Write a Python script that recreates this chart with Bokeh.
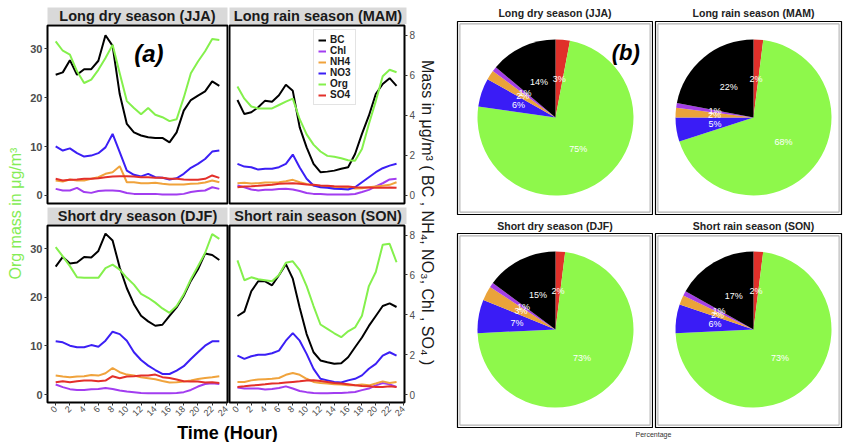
import math

from bokeh.core.properties import value
from bokeh.embed import file_html
from bokeh.layouts import column, row
from bokeh.models import (BoxAnnotation, ColumnDataSource, FixedTicker, Label,
                          LinearAxis, Range1d)
from bokeh.plotting import figure
from bokeh.resources import INLINE

FONT = "Liberation Sans"

# ---------------------------------------------------------------- data
hours = list(range(24))
seasons = ["JJA", "MAM", "DJF", "SON"]
season_titles = {
    "JJA": "Long dry season (JJA)",
    "MAM": "Long rain season (MAM)",
    "DJF": "Short dry season (DJF)",
    "SON": "Short rain season (SON)",
}
species = ["BC", "Chl", "NH4", "NO3", "Org", "SO4"]

# Organics, ug/m3 (left axis)
org_jja = [31.5, 29.6, 28.8, 25.4, 23.0, 23.7, 25.7, 28.1, 30.8, 25.0, 19.3, 17.9,
           16.6, 17.9, 16.5, 16.0, 15.2, 15.6, 20.0, 25.0, 27.4, 29.5, 32.0, 31.8]
org_mam = [22.3, 19.8, 18.2, 17.8, 17.8, 17.8, 18.5, 19.2, 19.8, 15.6, 12.5, 10.4,
           9.0, 8.1, 7.9, 7.6, 7.2, 7.1, 9.5, 14.6, 19.3, 24.4, 25.7, 25.2]
org_djf = [30.3, 28.4, 26.4, 24.1, 24.0, 24.0, 24.0, 26.0, 26.7, 25.7, 24.0, 22.6,
           20.7, 19.9, 18.9, 17.7, 16.8, 18.2, 20.6, 23.7, 26.4, 29.1, 33.0, 32.0]
org_son = [27.6, 23.5, 24.1, 23.7, 23.5, 23.3, 24.6, 27.1, 27.4, 25.6, 22.3, 18.2,
           14.4, 13.5, 12.6, 11.8, 13.0, 13.8, 16.2, 22.3, 25.2, 30.8, 31.0, 27.2]

# Black carbon and inorganics, ug/m3 (right axis)
bc_jja = [6.02, 6.14, 6.75, 6.02, 6.30, 6.30, 6.72, 7.99, 7.46, 5.06, 3.57, 3.15,
          2.99, 2.90, 2.87, 2.87, 2.65, 3.15, 4.23, 4.76, 4.98, 5.19, 5.69, 5.47]
bc_mam = [4.76, 4.06, 4.15, 4.40, 4.73, 4.68, 5.00, 5.52, 5.22, 3.40, 2.40, 1.58,
          1.16, 1.19, 1.24, 1.33, 1.41, 2.07, 3.07, 3.98, 5.06, 5.56, 5.85, 5.47]
bc_djf = [6.42, 6.90, 6.57, 6.62, 6.90, 6.87, 7.20, 8.07, 7.73, 6.37, 5.33, 4.53,
          3.95, 3.67, 3.45, 3.50, 3.95, 4.37, 4.95, 5.70, 6.28, 7.07, 7.00, 6.75]
bc_son = [3.94, 4.16, 5.18, 5.68, 5.68, 5.48, 5.98, 6.54, 5.81, 4.35, 3.03, 2.12,
          1.71, 1.62, 1.54, 1.57, 1.87, 2.37, 2.86, 3.44, 3.94, 4.44, 4.57, 4.39]

no3_jja = [2.45, 2.24, 2.35, 2.11, 1.94, 1.99, 2.11, 2.40, 3.07, 2.16, 1.24, 1.03,
           0.95, 1.08, 0.91, 0.88, 0.80, 0.86, 1.08, 1.38, 1.58, 1.82, 2.19, 2.24]
no3_mam = [1.58, 1.44, 1.41, 1.29, 1.33, 1.33, 1.41, 1.58, 2.04, 1.40, 0.83, 0.50,
           0.41, 0.38, 0.33, 0.32, 0.30, 0.41, 0.66, 0.91, 1.16, 1.36, 1.49, 1.58]
no3_djf = [2.67, 2.62, 2.45, 2.37, 2.37, 2.48, 2.40, 2.70, 3.15, 3.03, 2.70, 2.12,
           1.73, 1.45, 1.23, 1.03, 1.03, 1.20, 1.42, 1.78, 2.12, 2.45, 2.67, 2.67]
no3_son = [1.95, 1.79, 1.92, 2.00, 2.00, 2.07, 2.20, 2.70, 3.08, 2.70, 2.04, 1.29,
           0.79, 0.71, 0.63, 0.60, 0.71, 0.79, 0.96, 1.29, 1.54, 1.95, 2.12, 1.95]

nh4_jja = [0.75, 0.70, 0.80, 0.75, 0.75, 0.83, 0.91, 1.08, 1.16, 1.46, 0.66, 0.66,
           0.61, 0.61, 0.63, 0.58, 0.55, 0.55, 0.55, 0.58, 0.60, 0.65, 0.75, 0.66]
nh4_mam = [0.61, 0.63, 0.60, 0.61, 0.65, 0.65, 0.66, 0.71, 0.78, 0.66, 0.58, 0.50,
           0.46, 0.45, 0.41, 0.38, 0.38, 0.35, 0.36, 0.41, 0.45, 0.48, 0.53, 0.66]
nh4_djf = [0.95, 0.90, 0.87, 0.90, 0.92, 0.98, 0.95, 1.07, 1.33, 1.12, 1.00, 0.95,
           0.87, 0.82, 0.77, 0.68, 0.60, 0.62, 0.65, 0.70, 0.78, 0.83, 0.87, 0.92]
nh4_son = [0.63, 0.63, 0.71, 0.75, 0.77, 0.79, 0.83, 0.99, 1.08, 0.99, 0.79, 0.63,
           0.58, 0.55, 0.51, 0.50, 0.46, 0.46, 0.50, 0.46, 0.55, 0.66, 0.58, 0.63]

so4_jja = [0.83, 0.75, 0.78, 0.80, 0.83, 0.83, 0.86, 0.91, 0.95, 0.96, 0.96, 0.95,
           0.91, 0.91, 0.88, 0.88, 0.83, 0.83, 0.80, 0.78, 0.78, 0.83, 1.00, 0.88]
so4_mam = [0.41, 0.45, 0.46, 0.48, 0.51, 0.53, 0.58, 0.60, 0.61, 0.58, 0.55, 0.53,
           0.50, 0.48, 0.46, 0.45, 0.45, 0.41, 0.40, 0.40, 0.38, 0.38, 0.40, 0.38]
so4_djf = [0.62, 0.67, 0.62, 0.67, 0.70, 0.70, 0.67, 0.70, 0.92, 0.82, 0.90, 0.92,
           0.95, 0.95, 1.00, 0.87, 0.83, 0.75, 0.67, 0.65, 0.65, 0.60, 0.62, 0.58]
so4_son = [0.38, 0.41, 0.45, 0.48, 0.51, 0.55, 0.56, 0.60, 0.63, 0.66, 0.70, 0.71,
           0.68, 0.63, 0.58, 0.55, 0.51, 0.46, 0.43, 0.41, 0.38, 0.38, 0.41, 0.38]

chl_jja = [0.33, 0.25, 0.25, 0.38, 0.17, 0.13, 0.22, 0.25, 0.25, 0.22, 0.12, 0.08,
           0.08, 0.08, 0.08, 0.05, 0.05, 0.05, 0.08, 0.17, 0.22, 0.25, 0.41, 0.33]
chl_mam = [0.50, 0.41, 0.30, 0.25, 0.28, 0.28, 0.32, 0.33, 0.30, 0.22, 0.12, 0.08,
           0.07, 0.05, 0.05, 0.05, 0.05, 0.07, 0.17, 0.28, 0.45, 0.61, 0.80, 0.83]
chl_djf = [0.50, 0.37, 0.27, 0.23, 0.23, 0.27, 0.28, 0.33, 0.28, 0.20, 0.15, 0.12,
           0.08, 0.07, 0.07, 0.07, 0.07, 0.08, 0.12, 0.23, 0.40, 0.53, 0.57, 0.53]
chl_son = [0.35, 0.30, 0.30, 0.30, 0.25, 0.28, 0.33, 0.41, 0.30, 0.18, 0.12, 0.08,
           0.07, 0.07, 0.08, 0.08, 0.10, 0.13, 0.22, 0.30, 0.46, 0.58, 0.51, 0.38]

diurnal = {
    "JJA": {"BC": bc_jja, "Chl": chl_jja, "NH4": nh4_jja, "NO3": no3_jja, "Org": org_jja, "SO4": so4_jja},
    "MAM": {"BC": bc_mam, "Chl": chl_mam, "NH4": nh4_mam, "NO3": no3_mam, "Org": org_mam, "SO4": so4_mam},
    "DJF": {"BC": bc_djf, "Chl": chl_djf, "NH4": nh4_djf, "NO3": no3_djf, "Org": org_djf, "SO4": so4_djf},
    "SON": {"BC": bc_son, "Chl": chl_son, "NH4": nh4_son, "NO3": no3_son, "Org": org_son, "SO4": so4_son},
}

# Seasonal mass fractions (%)
pie_order = ["SO4", "Org", "NO3", "NH4", "Chl", "BC"]   # clockwise from 12 o'clock
pct_jja = {"BC": 14, "Chl": 1, "NH4": 2, "NO3": 6, "Org": 75, "SO4": 3}
pct_mam = {"BC": 22, "Chl": 1, "NH4": 2, "NO3": 5, "Org": 68, "SO4": 2}
pct_djf = {"BC": 15, "Chl": 1, "NH4": 3, "NO3": 7, "Org": 73, "SO4": 2}
pct_son = {"BC": 17, "Chl": 1, "NH4": 2, "NO3": 6, "Org": 73, "SO4": 2}
fractions = {"JJA": pct_jja, "MAM": pct_mam, "DJF": pct_djf, "SON": pct_son}

line_colors = {"BC": "#000000", "Chl": "#a23df0", "NH4": "#f0a33c", "NO3": "#3b1ff5",
               "Org": "#84f04c", "SO4": "#e3302a"}
pie_colors = {"BC": "#000000", "Chl": "#a33ee6", "NH4": "#eaa33a", "NO3": "#3a1cf6",
              "Org": "#8ef84b", "SO4": "#e0302a"}

SEC = 4.1                    # Org units per secondary-axis unit
Y0, Y1 = -1.64, 34.76
X0, X1 = -1.15, 24.15


def bare(width, height, mb, fill="white"):
    f = figure(width=width, height=height, x_range=Range1d(0, 1), y_range=Range1d(0, 1),
               x_axis_type=None, y_axis_type=None, toolbar_location=None,
               output_backend="svg", min_border_left=mb[0], min_border_right=mb[1],
               min_border_top=mb[2], min_border_bottom=mb[3])
    f.outline_line_color = None
    f.background_fill_color = fill
    f.border_fill_color = "white"
    return f


def text_fig(width, height, mb, text, x, y, size, style="normal", color="#1a1a1a",
             fill="white", angle=0.0):
    f = bare(width, height, mb, fill)
    f.add_layout(Label(x=x, y=y, text=text, text_align="center", text_baseline="middle",
                       text_font=FONT, text_font_size=size, text_font_style=style,
                       text_color=color, angle=angle))
    return f


def style_axis(ax, size, bold=False):
    ax.axis_line_color = None
    ax.major_tick_line_color = "#333333"
    ax.major_tick_out = 3
    ax.major_tick_in = 0
    ax.minor_tick_line_color = None
    ax.major_label_text_font = FONT
    ax.major_label_text_font_size = size
    ax.major_label_text_font_style = "bold" if bold else "normal"
    ax.major_label_text_color = "#4d4d4d"
    ax.major_label_standoff = 2


def panel(season, width, height, mb, left=False, right=False, bottom=False, legend=False):
    p = figure(width=width, height=height, x_range=Range1d(X0, X1), y_range=Range1d(Y0, Y1),
               x_axis_type=None, y_axis_type=None, toolbar_location=None,
               output_backend="svg", min_border_left=mb[0], min_border_right=mb[1],
               min_border_top=mb[2], min_border_bottom=mb[3])
    p.extra_y_ranges = {"sec": Range1d(Y0 / SEC, Y1 / SEC)}
    p.outline_line_color = "black"
    p.outline_line_width = 2
    p.background_fill_color = "white"
    p.border_fill_color = "white"
    if left:
        ax = LinearAxis(ticker=FixedTicker(ticks=[0, 10, 20, 30]))
        style_axis(ax, "11px", bold=True)
        p.add_layout(ax, "left")
    if right:
        ax = LinearAxis(y_range_name="sec", ticker=FixedTicker(ticks=[0, 2, 4, 6, 8]))
        style_axis(ax, "10px")
        p.add_layout(ax, "right")
    if bottom:
        ax = LinearAxis(ticker=FixedTicker(ticks=list(range(0, 25, 2))))
        style_axis(ax, "9px")
        ax.major_label_orientation = math.pi / 4
        p.add_layout(ax, "below")
    for sp in species:
        kw = dict(line_color=line_colors[sp], line_width=2)
        if legend:
            kw["legend_label"] = sp
        if sp != "Org":
            kw["y_range_name"] = "sec"
        p.line(hours, diurnal[season][sp], **kw)
    if legend:
        lg = p.legend[0]
        lg.location = (84, 98)
        lg.label_text_font = FONT
        lg.label_text_font_size = "10px"
        lg.label_text_font_style = "bold"
        lg.label_text_color = "#1a1a1a"
        lg.label_text_line_height = 0.9
        lg.glyph_width = 8
        lg.glyph_height = 10
        lg.label_height = 10
        lg.label_standoff = 4
        lg.spacing = 0
        lg.padding = 4
        lg.margin = 0
        lg.border_line_color = "#c8c8c8"
        lg.border_line_width = 1
        lg.background_fill_color = "white"
        lg.background_fill_alpha = 1.0
    return p


R_PX = 78.0   # pie radius in pixels


def pie(season, width, height, mb, cx_off, cy_off):
    fw = width - mb[0] - mb[1]
    fh = height - mb[2] - mb[3]
    p = figure(width=width, height=height,
               x_range=Range1d(-cx_off / R_PX, (fw - cx_off) / R_PX),
               y_range=Range1d(-(fh - cy_off) / R_PX, cy_off / R_PX),
               x_axis_type=None, y_axis_type=None, toolbar_location=None,
               output_backend="svg", min_border_left=mb[0], min_border_right=mb[1],
               min_border_top=mb[2], min_border_bottom=mb[3])
    p.outline_line_color = "black"
    p.outline_line_width = 1.2
    p.background_fill_color = "white"
    p.border_fill_color = "white"
    inset = 2.4 / R_PX
    xr, yr = p.x_range, p.y_range
    p.add_layout(BoxAnnotation(left=xr.start + inset, right=xr.end - inset,
                               bottom=yr.start + inset, top=yr.end - inset,
                               fill_alpha=0, line_color="black", line_width=1.1))

    vals = [fractions[season][sp] for sp in pie_order]
    total = float(sum(vals))
    starts, ends, mids = [], [], []
    c = 0.0
    for v in vals:
        c0, c1 = c, c + v / total
        starts.append(math.pi / 2 - 2 * math.pi * c1)
        ends.append(math.pi / 2 - 2 * math.pi * c0)
        mids.append(math.pi / 2 - 2 * math.pi * (c0 + c1) / 2)
        c = c1
    src = ColumnDataSource(dict(start=starts, end=ends,
                                color=[pie_colors[sp] for sp in pie_order],
                                lx=[0.5 * math.cos(a) for a in mids],
                                ly=[0.5 * math.sin(a) for a in mids],
                                label=["%d%%" % v for v in vals]))
    p.wedge(x=0, y=0, radius=1.0, start_angle="start", end_angle="end",
            fill_color="color", line_color=None, source=src)
    p.text(x="lx", y="ly", text="label", source=src, text_color="white",
           text_align="center", text_baseline="middle",
           text_font=value(FONT), text_font_size="9px")
    return p


# ---------------------------------------------------------------- (a) diurnal panels
STRIP = "#d9d9d9"
strip1 = text_fig(203, 24, (22, 1, 7, 0), season_titles["JJA"], 0.5, 0.5, "14.5px", "bold", fill=STRIP)
strip2 = text_fig(190, 24, (1, 12, 7, 0), season_titles["MAM"], 0.5, 0.5, "14.5px", "bold", fill=STRIP)
strip3 = text_fig(203, 19, (22, 1, 2, 0), season_titles["DJF"], 0.5, 0.5, "14.5px", "bold", fill=STRIP)
strip4 = text_fig(190, 19, (1, 12, 2, 0), season_titles["SON"], 0.5, 0.5, "14.5px", "bold", fill=STRIP)

p1 = panel("JJA", 203, 181, (22, 1, 1, 2), left=True)
p2 = panel("MAM", 190, 181, (1, 12, 1, 2), right=True, legend=True)
# the lower-left panel is a little wider so its last hour label is not cut;
# the lower-right panel overlaps it with a transparent border
p3 = panel("DJF", 209, 198, (22, 7, 1, 20), left=True, bottom=True)
p4 = panel("SON", 190, 198, (1, 12, 1, 20), right=True, bottom=True)
p4.border_fill_alpha = 0.0
p4.margin = (0, 0, 0, -6)

p1.add_layout(Label(x=13.1, y=29.0, text="(a)", text_align="center", text_baseline="middle",
                    text_font=FONT, text_font_size="24px", text_font_style="bold italic",
                    text_color="black"))

time_fig = text_fig(393, 20, (0, 0, 0, 0), "Time (Hour)", 0.514, 0.5, "18px", "bold", color="black")
ylab = text_fig(25, 442, (0, 0, 0, 0), "Org mass in μg/m³", 0.6, 0.518, "16px",
                color="#84ec55", angle=math.pi / 2)
rlab = text_fig(22, 442, (0, 0, 0, 0), "Mass in μg/m³ ( BC , NH₄, NO₃, Chl , SO₄ )",
                0.42, 0.52, "16px", color="#1a1a1a", angle=-math.pi / 2)

mid = column(row(strip1, strip2), row(p1, p2), row(strip3, strip4), row(p3, p4), time_fig)

# ---------------------------------------------------------------- (b) seasonal pies
t1 = text_fig(213, 20, (17, 1, 0, 0), season_titles["JJA"], 0.5, 0.36, "10.5px", "bold", color="#222222")
t2 = text_fig(191, 20, (2, 3, 0, 0), season_titles["MAM"], 0.527, 0.36, "10.5px", "bold", color="#222222")
t3 = text_fig(213, 17, (17, 1, 0, 0), season_titles["DJF"], 0.5, 0.4, "10.5px", "bold", color="#222222")
t4 = text_fig(191, 17, (2, 3, 0, 0), season_titles["SON"], 0.527, 0.4, "10.5px", "bold", color="#222222")

pie1 = pie("JJA", 213, 195, (17, 1, 1, 1), 98, 96)
pie2 = pie("MAM", 191, 195, (2, 3, 1, 1), 98, 96)
pie3 = pie("DJF", 213, 196, (17, 1, 1, 1), 98, 96)
pie4 = pie("SON", 191, 196, (2, 3, 1, 1), 98, 96)

pie1.add_layout(Label(x=0.9, y=0.83, text="(b)", text_align="center", text_baseline="middle",
                      text_font=FONT, text_font_size="22px", text_font_style="bold italic",
                      text_color="black"))

pct_fig = text_fig(404, 14, (0, 0, 0, 0), "Percentage", 0.527, 0.6, "7px", color="#333333")

pies = column(row(t1, t2), row(pie1, pie2), row(t3, t4), row(pie3, pie4), pct_fig)

red_fig = bare(844, 2, (3, 3, 0, 0), fill="#d8343a")

page = column(row(ylab, mid, rlab, pies), red_fig)

open("out.html", "w").write(file_html(page, INLINE))
